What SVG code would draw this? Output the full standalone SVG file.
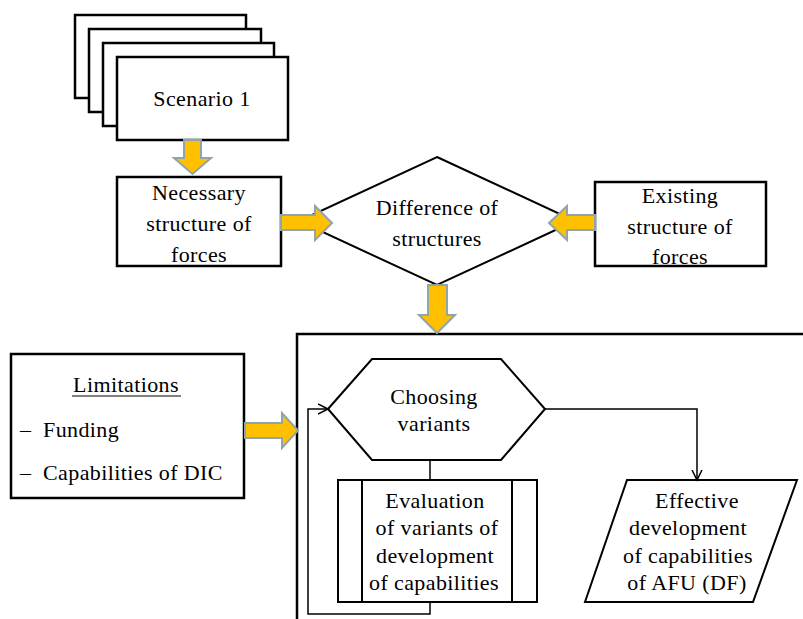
<svg xmlns="http://www.w3.org/2000/svg" width="803" height="619" viewBox="0 0 803 619">
  <defs>
    <style>
      .box { fill: #ffffff; stroke: #000000; stroke-width: 2.5; }
      .shape { fill: #ffffff; stroke: #000000; stroke-width: 2; }
      .frame { fill: none; stroke: #000000; stroke-width: 2.5; }
      .link { fill: none; stroke: #000000; stroke-width: 1.5; }
      .big { fill: #FFC000; stroke: #8FA5AA; stroke-width: 2; stroke-linejoin: miter; }
      text { font-family: "Liberation Serif", "Times New Roman", serif; font-size: 22px; fill: #000000; letter-spacing: 0.4px; }
      .c { text-anchor: middle; }
    </style>
    <marker id="open" markerWidth="12" markerHeight="12" refX="10" refY="5" orient="auto" markerUnits="userSpaceOnUse" viewBox="0 0 12 10">
      <path d="M0,0 L10,5 L0,10" fill="none" stroke="#000000" stroke-width="1.5"/>
    </marker>
  </defs>

  <!-- stacked scenario sheets -->
  <g id="scenario">
    <rect class="box" x="75" y="15" width="171" height="83"/>
    <rect class="box" x="89" y="29" width="172" height="83"/>
    <rect class="box" x="103" y="43" width="171" height="83"/>
    <rect class="box" x="117" y="57" width="171" height="83"/>
    <text class="c" x="202" y="106">Scenario 1</text>
  </g>

  <g id="necessary">
    <rect class="box" x="117" y="177" width="164" height="89"/>
    <text class="c" x="199" y="200">Necessary</text>
    <text class="c" x="199" y="231">structure of</text>
    <text class="c" x="199" y="262">forces</text>
  </g>

  <g id="difference">
    <polygon class="shape" points="437,157 575,221 437,285 299,221"/>
    <text class="c" x="437" y="215">Difference of</text>
    <text class="c" x="437" y="246">structures</text>
  </g>

  <g id="existing">
    <rect class="box" x="595" y="182" width="171" height="84"/>
    <text class="c" x="680" y="203">Existing</text>
    <text class="c" x="680" y="234">structure of</text>
    <text class="c" x="680" y="264">forces</text>
  </g>

  <g id="limitations">
    <rect class="box" x="11" y="354" width="233" height="144"/>
    <text class="c" x="126" y="392">Limitations</text>
    <line x1="72" y1="396" x2="181" y2="396" stroke="#000000" stroke-width="1.2"/>
    <text x="20" y="437">–</text>
    <text x="43" y="437">Funding</text>
    <text x="20" y="480">–</text>
    <text x="43" y="480">Capabilities of DIC</text>
  </g>

  <!-- frame around the variant selection loop -->
  <g id="selection-frame">
    <polyline class="frame" points="297,619 297,334 803,334"/>
  </g>

  <g id="choosing">
    <polygon class="shape" points="328,409 372,359 501,359 545,409 501,460 372,460"/>
    <text class="c" x="434" y="404">Choosing</text>
    <text class="c" x="434" y="431">variants</text>
  </g>

  <g id="evaluation">
    <rect class="shape" x="338" y="480" width="199" height="122"/>
    <line x1="362" y1="480" x2="362" y2="602" stroke="#000000" stroke-width="2"/>
    <line x1="512" y1="480" x2="512" y2="602" stroke="#000000" stroke-width="2"/>
    <text class="c" x="435" y="508">Evaluation</text>
    <text class="c" x="437" y="535">of variants of</text>
    <text class="c" x="435" y="563">development</text>
    <text class="c" x="434" y="590">of capabilities</text>
  </g>

  <g id="effective">
    <polygon class="shape" points="627,480 797,480 753,602 585,602"/>
    <text class="c" x="697" y="508">Effective</text>
    <text class="c" x="688" y="535">development</text>
    <text class="c" x="688" y="563">of capabilities</text>
    <text class="c" x="687" y="590">of AFU (DF)</text>
  </g>

  <g id="connectors">
    <!-- block arrows -->
    <polygon class="big" points="184,140 201,140 201,158 211,158 192.5,174 174,158 184,158"/>
    <polygon class="big" points="281,215 315,215 315,206 332,223 315,240 315,230 281,230"/>
    <polygon class="big" points="595,215 567,215 567,206 549,223 567,240 567,230 595,230"/>
    <polygon class="big" points="428,285 447,285 447,315 455,315 437,333 419,315 428,315"/>
    <polygon class="big" points="245,423 282,423 282,413 298,430.5 282,448 282,438 245,438"/>
    <!-- thin flow lines -->
    <line class="link" x1="430" y1="460" x2="430" y2="480"/>
    <polyline class="link" points="430,602 430,614 308,614 308,409 328,409" marker-end="url(#open)"/>
    <polyline class="link" points="545,409 697,409 697,480" marker-end="url(#open)"/>
  </g>
</svg>
